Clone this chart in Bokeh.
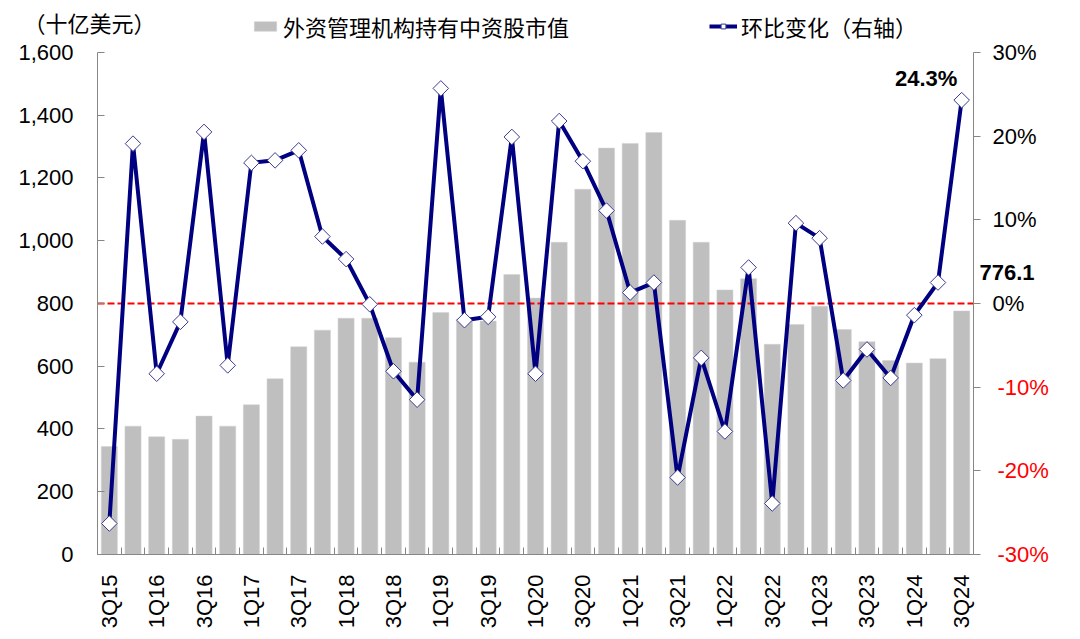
import numpy as np
from bokeh.plotting import figure
from bokeh.models import (Range1d, LinearAxis, FixedTicker, NumeralTickFormatter,
                          Span, Label, Legend, LegendItem, ColumnDataSource)
from bokeh.embed import file_html
from bokeh.resources import INLINE

quarters = ["3Q15", "4Q15", "1Q16", "2Q16", "3Q16", "4Q16", "1Q17", "2Q17", "3Q17", "4Q17",
            "1Q18", "2Q18", "3Q18", "4Q18", "1Q19", "2Q19", "3Q19", "4Q19", "1Q20", "2Q20",
            "3Q20", "4Q20", "1Q21", "2Q21", "3Q21", "4Q21", "1Q22", "2Q22", "3Q22", "4Q22",
            "1Q23", "2Q23", "3Q23", "4Q23", "1Q24", "2Q24", "3Q24"]
holdings = [344, 409, 375, 367, 441, 409, 477, 560, 662, 715,
            753, 753, 691, 613, 771, 750, 744, 892, 817, 995,
            1164, 1295, 1310, 1345, 1065, 995, 843, 879, 670, 733,
            791, 717, 678, 618, 610, 624, 776.1]
qoq = [-26.3, 19.1, -8.4, -2.2, 20.5, -7.4, 16.8, 17.1, 18.3, 8.0,
       5.3, -0.1, -8.1, -11.5, 25.7, -2.0, -1.6, 19.9, -8.4, 21.8,
       17.0, 11.1, 1.3, 2.5, -20.8, -6.5, -15.3, 4.3, -23.9, 9.6,
       7.8, -9.2, -5.5, -8.9, -1.4, 2.5, 24.3]
left_ticks = [0, 200, 400, 600, 800, 1000, 1200, 1400, 1600]
right_ticks = [-30, -20, -10, 0, 10, 20, 30]
bar_name = "外资管理机构持有中资股市值"
line_name = "环比变化（右轴）"
unit_label = "（十亿美元）"

n = len(quarters)
idx = list(range(n))
src = ColumnDataSource(dict(x=idx, q=quarters, h=holdings, r=qoq))

LAT = "Liberation Sans"
CJK = "Noto Sans CJK SC"

# plot area in pixels: axes run from y=52 (top value) to y=555 (bottom value);
# the frame reaches further up (to y=4) so that the legend can sit inside it
AX_TOP, AX_BOT, FR_TOP = 52, 555, 4
extra = (AX_TOP - FR_TOP) / (AX_BOT - AX_TOP)
y_top = left_ticks[-1] + extra * (left_ticks[-1] - left_ticks[0])
pct_top = right_ticks[-1] + extra * (right_ticks[-1] - right_ticks[0])

p = figure(width=1072, height=631, x_range=Range1d(-0.5, n - 0.5), y_range=Range1d(0, y_top),
           output_backend="svg", toolbar_location=None,
           min_border_left=97, min_border_right=99, min_border_top=FR_TOP, min_border_bottom=76)
p.extra_y_ranges = {"pct": Range1d(right_ticks[0], pct_top)}
p.outline_line_color = None
p.xgrid.visible = False
p.ygrid.visible = False
p.background_fill_color = "white"
p.border_fill_color = "white"

AX = "#868686"
# x axis
xa = p.xaxis[0]
xa.ticker = FixedTicker(ticks=idx[::2], minor_ticks=[i - 0.5 for i in range(n + 1)])
xa.major_label_overrides = {i: quarters[i] for i in idx[::2]}
xa.major_label_orientation = np.pi / 2
xa.major_tick_line_color = None
xa.minor_tick_in = 7
xa.minor_tick_out = 0
xa.minor_tick_line_color = AX
xa.axis_line_color = AX
xa.major_label_text_font = LAT
xa.major_label_text_font_size = "22px"
xa.major_label_text_color = "black"
xa.major_label_standoff = 14

# left axis
ya = p.yaxis[0]
ya.ticker = FixedTicker(ticks=left_ticks)
ya.bounds = (left_ticks[0], left_ticks[-1])
ya.formatter = NumeralTickFormatter(format="0,0")
ya.major_tick_in = 7
ya.major_tick_out = 0
ya.minor_tick_line_color = None
ya.major_tick_line_color = AX
ya.axis_line_color = AX
ya.major_label_text_font = LAT
ya.major_label_text_font_size = "22px"
ya.major_label_text_color = "black"
ya.major_label_standoff = 24

# unit label at the top left, as a label of a second left axis
unit_y = left_ticks[-1] + 0.06 * (left_ticks[-1] - left_ticks[0])
la2 = LinearAxis(ticker=FixedTicker(ticks=[unit_y]))
la2.major_label_overrides = {unit_y: unit_label}
la2.axis_line_color = None
la2.major_tick_line_color = None
la2.minor_tick_line_color = None
la2.major_tick_in = 0
la2.major_tick_out = 0
la2.major_label_text_font = CJK
la2.major_label_text_font_size = "22px"
la2.major_label_text_color = "black"
la2.major_label_standoff = -140
p.add_layout(la2, "left")

# right axis: line, ticks and non-negative labels
ra = LinearAxis(y_range_name="pct", ticker=FixedTicker(ticks=right_ticks),
                bounds=(right_ticks[0], right_ticks[-1]))
ra.major_label_overrides = {t: (f"{t}%" if t >= 0 else "") for t in right_ticks}
ra.major_tick_in = 0
ra.major_tick_out = 7
ra.minor_tick_line_color = None
ra.major_tick_line_color = AX
ra.axis_line_color = AX
ra.major_label_text_font = LAT
ra.major_label_text_font_size = "22px"
ra.major_label_text_color = "black"
ra.major_label_standoff = 12
p.add_layout(ra, "right")

# right axis: red negative labels, drawn back over the first axis
neg_ticks = [t for t in right_ticks if t < 0]
ra2 = LinearAxis(y_range_name="pct", ticker=FixedTicker(ticks=neg_ticks))
ra2.major_label_overrides = {t: f"{t}%" for t in neg_ticks}
ra2.axis_line_color = None
ra2.major_tick_line_color = None
ra2.minor_tick_line_color = None
ra2.major_tick_in = 0
ra2.major_tick_out = 0
ra2.major_label_text_font = LAT
ra2.major_label_text_font_size = "22px"
ra2.major_label_text_color = "#ff0000"
ra2.major_label_standoff = -42
p.add_layout(ra2, "right")

# value label for the last bar
lab_y = holdings[-1] + 124
ra3 = LinearAxis(ticker=FixedTicker(ticks=[lab_y]))
ra3.major_label_overrides = {lab_y: f"{holdings[-1]:.1f}"}
ra3.axis_line_color = None
ra3.major_tick_line_color = None
ra3.minor_tick_line_color = None
ra3.major_tick_in = 0
ra3.major_tick_out = 0
ra3.major_label_text_font = LAT
ra3.major_label_text_font_size = "22px"
ra3.major_label_text_font_style = "bold"
ra3.major_label_text_color = "black"
ra3.major_label_standoff = -72
p.add_layout(ra3, "right")

bars = p.vbar(x="x", top="h", width=0.68, source=src, fill_color="#bfbfbf", line_color="#d0d0d0",
              line_width=0.5)

span = Span(location=800, dimension="width", line_color="#ff0000", line_dash="7 3", line_width=2,
            level="glyph")
p.renderers.append(span)

ln = p.line(x="x", y="r", source=src, y_range_name="pct", line_color="#000080", line_width=4)
mk = p.scatter(x="x", y="r", source=src, y_range_name="pct", marker="square", angle=np.pi / 4,
               size=11, fill_color="white", line_color="#3a3a90", line_width=1)

leg = Legend(items=[LegendItem(label=bar_name, renderers=[bars]),
                    LegendItem(label=line_name, renderers=[ln, mk])],
             location=(154, 512), orientation="horizontal", padding=0, margin=0, spacing=140,
             border_line_color=None, background_fill_alpha=0, glyph_width=28, glyph_height=12,
             label_standoff=4, label_text_font=CJK, label_text_font_size="22px",
             label_text_color="black", label_height=22)
p.add_layout(leg, "center")

last = n - 1
p.add_layout(Label(x=last - 1.5, y=qoq[-1] + 2.6, y_range_name="pct", text=f"{qoq[-1]:.1f}%",
                   text_font=LAT, text_font_size="22px", text_font_style="bold",
                   text_color="black", text_align="center", text_baseline="middle"))

open("out.html", "w").write(file_html(p, INLINE))
